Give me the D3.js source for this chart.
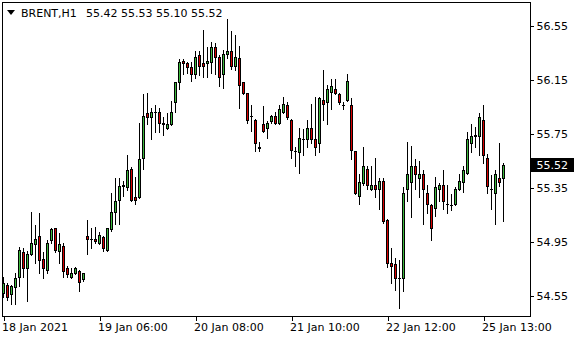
<!DOCTYPE html>
<html>
<head>
  <meta charset="utf-8">
  <title>BRENT,H1</title>
  <script src="https://cdn.jsdelivr.net/npm/d3@7/dist/d3.min.js"></script>
  <style>
    body { margin: 0; background: #fff; }
    text { font-family: "DejaVu Sans", sans-serif; font-size: 11px; fill: #000; }
    .axis path { display: none; }
    .axis line { stroke: #000; shape-rendering: crispEdges; }
  </style>
</head>
<body>
  <svg id="chart" width="580" height="340"></svg>
  <script>
    // OHLC of hourly bars
    var open = [54.57, 54.63, 54.56, 54.61, 54.69, 54.87, 54.75, 54.86, 54.93, 54.99,
      54.82, 54.74, 54.96, 55.05, 54.88, 54.92, 54.75, 54.69, 54.72, 54.73,
      54.67, 54.99, 54.97, 54.97, 54.94, 54.98, 54.89, 55.04, 55.17, 55.26,
      55.36, 55.35, 55.49, 55.28, 55.28, 55.57, 55.90, 55.87, 55.91, 55.91,
      55.83, 55.79, 55.82, 55.98, 56.13, 56.29, 56.27, 56.24, 56.19, 56.33,
      56.27, 56.27, 56.28, 56.39, 56.32, 56.19, 56.34, 56.36, 56.25, 56.31,
      56.13, 56.05, 55.88, 55.85, 55.65, 55.82, 55.79, 55.84, 55.88, 55.83,
      55.91, 55.96, 55.85, 55.62, 55.61, 55.71, 55.71, 55.79, 55.71, 55.68,
      56.00, 55.98, 56.06, 56.08, 56.04, 55.96, 56.00, 55.96, 55.62, 55.29,
      55.38, 55.49, 55.34, 55.37, 55.34, 55.40, 55.11, 54.79, 54.78, 54.68,
      54.68, 55.34, 55.39, 55.51, 55.42, 55.45, 55.31, 55.22, 55.20, 55.34,
      55.37, 55.23, 55.22, 55.23, 55.34, 55.39, 55.46, 55.68, 55.73, 55.73,
      55.85, 55.57, 55.34, 55.31, 55.42, 55.42];
    var high = [54.69, 54.64, 54.63, 54.72, 54.91, 54.90, 54.88, 55.17, 55.07, 55.16,
      54.87, 54.96, 55.05, 55.05, 55.01, 54.94, 54.77, 54.75, 54.76, 54.74,
      54.72, 55.11, 55.05, 55.06, 55.02, 54.99, 55.05, 55.31, 55.42, 55.42,
      55.40, 55.59, 55.50, 55.43, 55.83, 56.04, 56.05, 55.94, 55.96, 55.94,
      55.87, 55.90, 55.99, 56.13, 56.30, 56.30, 56.28, 56.28, 56.36, 56.36,
      56.52, 56.39, 56.43, 56.42, 56.33, 56.37, 56.60, 56.51, 56.48, 56.40,
      56.13, 56.05, 55.96, 55.86, 55.69, 55.95, 55.84, 55.89, 55.91, 55.96,
      56.02, 55.98, 55.86, 55.65, 55.79, 55.78, 55.85, 55.97, 56.02, 56.02,
      56.22, 56.11, 56.15, 56.15, 56.05, 55.98, 56.19, 56.01, 55.62, 55.45,
      55.65, 55.51, 55.51, 55.57, 55.42, 55.42, 55.12, 54.90, 54.83, 54.81,
      55.35, 55.69, 55.66, 55.56, 55.55, 55.48, 55.37, 55.23, 55.43, 55.38,
      55.48, 55.37, 55.30, 55.35, 55.45, 55.51, 55.76, 55.82, 55.80, 55.90,
      55.96, 55.60, 55.44, 55.48, 55.68, 55.53];
    var low = [54.54, 54.52, 54.49, 54.49, 54.62, 54.69, 54.51, 54.85, 54.79, 54.72,
      54.68, 54.72, 54.94, 54.87, 54.79, 54.69, 54.69, 54.68, 54.71, 54.58,
      54.66, 54.86, 54.90, 54.94, 54.93, 54.88, 54.88, 55.03, 55.08, 55.08,
      55.29, 55.33, 55.25, 55.23, 55.27, 55.49, 55.82, 55.71, 55.76, 55.76,
      55.74, 55.78, 55.81, 55.91, 56.08, 56.19, 56.20, 56.14, 56.16, 56.18,
      56.17, 56.17, 56.20, 56.19, 56.10, 56.09, 56.31, 56.23, 56.22, 55.94,
      56.04, 55.83, 55.77, 55.62, 55.62, 55.76, 55.72, 55.83, 55.82, 55.82,
      55.90, 55.86, 55.57, 55.51, 55.46, 55.59, 55.65, 55.68, 55.59, 55.61,
      55.85, 55.82, 55.93, 56.04, 55.97, 55.93, 55.99, 55.56, 55.30, 55.23,
      55.37, 55.34, 55.33, 55.28, 55.19, 55.09, 54.76, 54.64, 54.59, 54.46,
      54.58, 55.25, 55.13, 55.34, 55.28, 55.08, 55.16, 54.96, 55.14, 55.25,
      55.19, 55.16, 55.18, 55.22, 55.33, 55.32, 55.45, 55.61, 55.65, 55.59,
      55.53, 55.31, 55.19, 55.08, 55.36, 55.10];
    var close = [54.64, 54.54, 54.62, 54.68, 54.89, 54.75, 54.86, 54.94, 54.97, 54.81,
      54.75, 54.94, 55.04, 54.89, 54.93, 54.73, 54.71, 54.72, 54.75, 54.65,
      54.72, 54.97, 54.97, 54.95, 55.00, 54.90, 55.05, 55.17, 55.25, 55.36,
      55.37, 55.48, 55.26, 55.26, 55.56, 55.88, 55.87, 55.91, 55.91, 55.83,
      55.82, 55.82, 55.91, 56.13, 56.28, 56.27, 56.24, 56.19, 56.32, 56.25,
      56.25, 56.29, 56.39, 56.32, 56.17, 56.34, 56.36, 56.25, 56.32, 56.11,
      56.05, 55.85, 55.88, 55.68, 55.64, 55.77, 55.83, 55.88, 55.83, 55.93,
      55.97, 55.87, 55.63, 55.62, 55.72, 55.71, 55.79, 55.71, 55.65, 56.01,
      55.97, 56.08, 56.10, 56.05, 55.98, 55.96, 56.14, 55.63, 55.31, 55.39,
      55.51, 55.37, 55.37, 55.34, 55.40, 55.10, 54.79, 54.77, 54.68, 54.68,
      55.31, 55.45, 55.51, 55.45, 55.45, 55.34, 55.23, 55.05, 55.35, 55.37,
      55.25, 55.23, 55.22, 55.34, 55.40, 55.48, 55.71, 55.73, 55.74, 55.87,
      55.59, 55.36, 55.34, 55.45, 55.39, 55.52];

    var yTicks = [56.55, 56.15, 55.75, 55.35, 54.95, 54.55];
    var xTickBars = [0, 24, 48, 72, 96, 120];
    var xTickLabels = ['18 Jan 2021', '19 Jan 06:00', '20 Jan 08:00', '21 Jan 10:00', '22 Jan 12:00', '25 Jan 13:00'];
    var symbol = 'BRENT,H1';
    var last = open.length - 1;

    var svg = d3.select('#chart');

    var x = d3.scaleLinear().domain([0, 125]).range([3.5, 503.5]);
    var y = d3.scaleLinear().domain([54.55, 56.55]).range([295.5, 25.5]);
    var py = v => Math.round(y(v)) + 0.5;

    // frame
    svg.append('rect')
      .attr('x', 2.5).attr('y', 2.5)
      .attr('width', 528).attr('height', 314)
      .attr('fill', 'none').attr('stroke', '#000');

    var bars = d3.range(open.length);

    var candle = svg.selectAll('.candle')
      .data(bars)
      .enter()
      .append('g')
      .attr('class', 'candle');

    candle.append('line')
      .attr('x1', i => x(i)).attr('x2', i => x(i))
      .attr('y1', i => py(high[i]) - 0.5).attr('y2', i => py(low[i]) + 0.5)
      .attr('stroke', '#000');

    candle.filter(i => Math.abs(py(open[i]) - py(close[i])) >= 1)
      .append('rect')
      .attr('x', i => x(i) - 1)
      .attr('width', 2)
      .attr('y', i => Math.min(py(open[i]), py(close[i])))
      .attr('height', i => Math.abs(py(open[i]) - py(close[i])))
      .attr('fill', i => close[i] > open[i] ? '#3cb83c' : '#d80000')
      .attr('stroke', '#000');

    candle.filter(i => Math.abs(py(open[i]) - py(close[i])) < 1)
      .append('line')
      .attr('x1', i => x(i) - 1.5).attr('x2', i => x(i) + 1.5)
      .attr('y1', i => py(close[i])).attr('y2', i => py(close[i]))
      .attr('stroke', '#000');

    // right price axis
    var yAxis = d3.axisRight(y)
      .tickValues(yTicks)
      .tickSize(3)
      .tickPadding(3)
      .tickFormat(d3.format('.2f'));

    svg.append('g')
      .attr('class', 'axis')
      .attr('transform', 'translate(530.5,0)')
      .call(yAxis)
      .selectAll('text')
      .style('font-size', '11px')
      .style('font-family', '"DejaVu Sans", sans-serif');

    // bottom time axis
    var xAxis = d3.axisBottom(x)
      .tickValues(xTickBars)
      .tickSize(4)
      .tickPadding(3)
      .tickFormat((d, i) => xTickLabels[i]);

    svg.append('g')
      .attr('class', 'axis')
      .attr('transform', 'translate(0,316.5)')
      .call(xAxis)
      .selectAll('text')
      .attr('text-anchor', 'start')
      .attr('dx', -2)
      .style('font-size', '11px')
      .style('font-family', '"DejaVu Sans", sans-serif');

    // last price tag
    var ly = Math.round(y(close[last]));
    svg.append('rect')
      .attr('x', 531).attr('y', ly - 7)
      .attr('width', 43).attr('height', 14)
      .attr('fill', '#000');
    svg.append('text')
      .attr('x', 536.5).attr('y', ly)
      .attr('dy', '0.32em')
      .style('fill', '#fff')
      .text(d3.format('.2f')(close[last]));

    // header
    svg.append('path')
      .attr('d', 'M7,10L15,10L11,15Z')
      .attr('fill', '#000');
    svg.append('text')
      .attr('x', 21).attr('y', 17)
      .text(symbol);
    svg.append('text')
      .attr('x', 86).attr('y', 17)
      .text([open[last], high[last], low[last], close[last]].map(d3.format('.2f')).join(' '));
  </script>
</body>
</html>
